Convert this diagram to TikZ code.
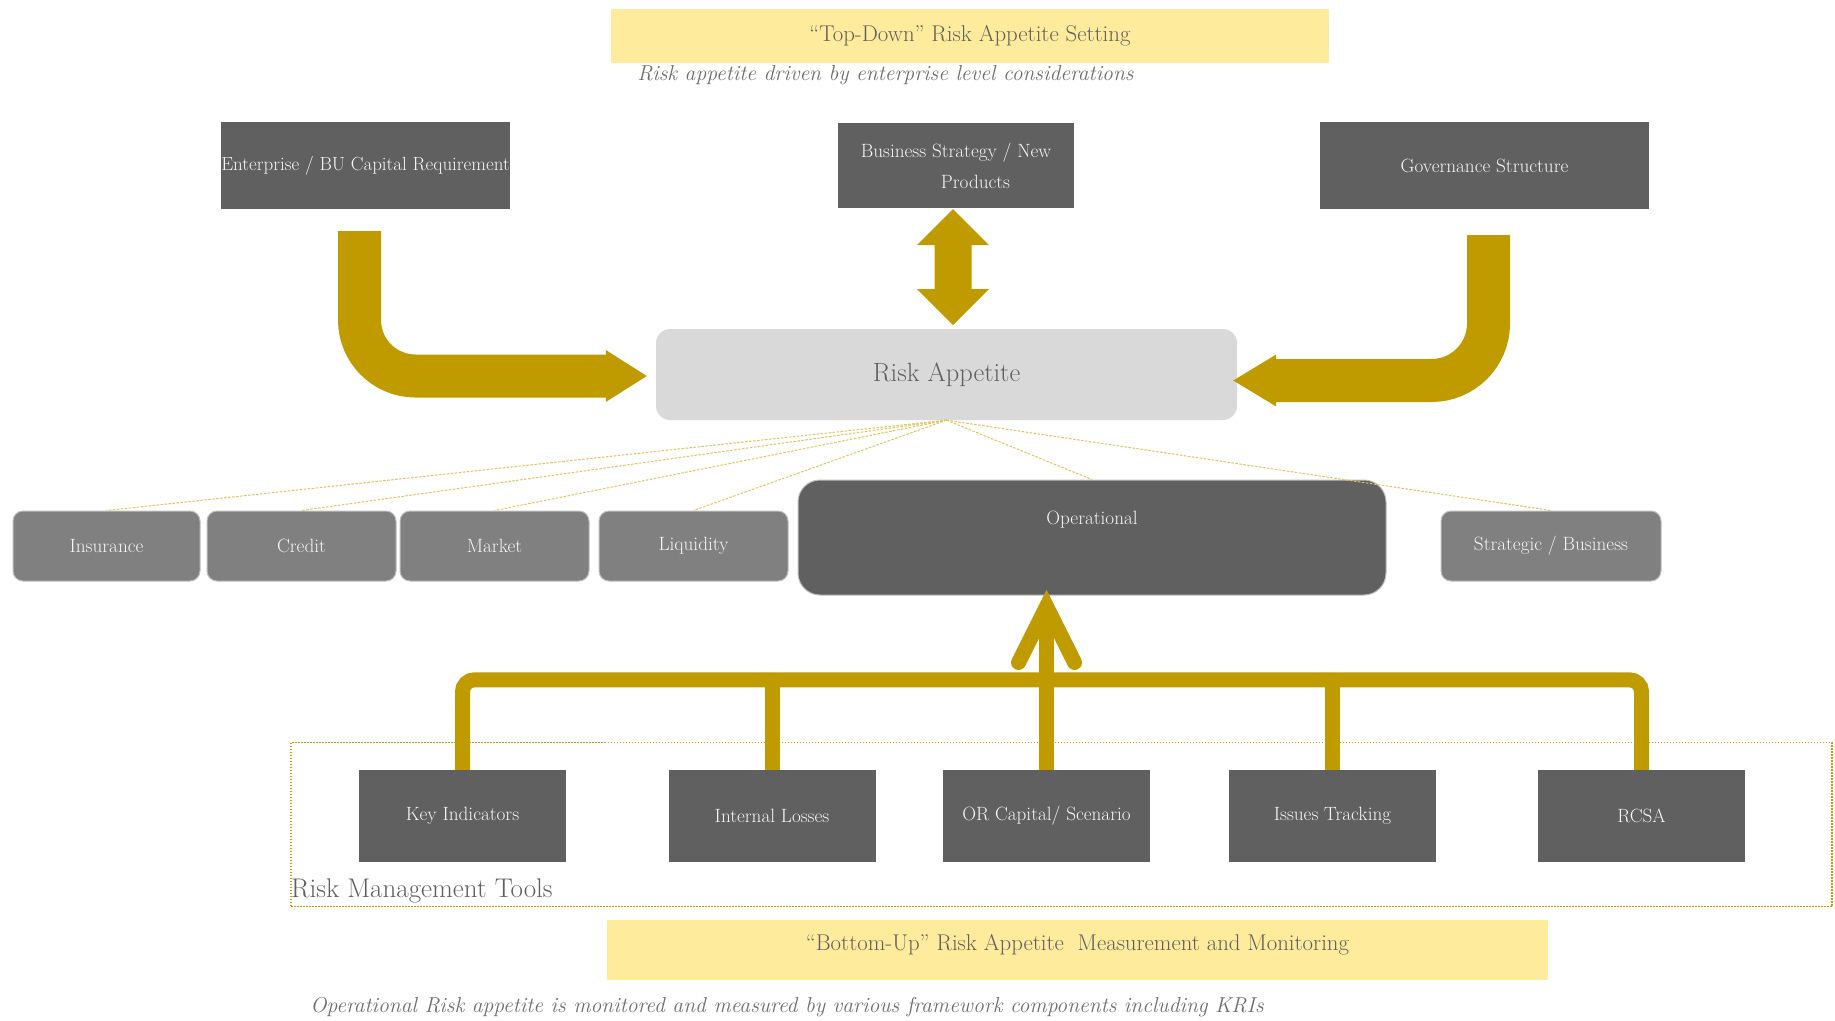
\documentclass[tikz,border=0pt]{standalone}
\usetikzlibrary{calc}
\definecolor{gold}{RGB}{191,155,0}
\definecolor{boxdark}{RGB}{96,96,96}
\definecolor{boxmid}{RGB}{128,128,128}
\definecolor{boxlight}{RGB}{217,217,217}
\definecolor{boxedge}{RGB}{190,190,190}
\definecolor{bandyellow}{RGB}{255,235,156}
\definecolor{txtgray}{RGB}{96,96,96}
\definecolor{italgray}{RGB}{110,110,110}
\definecolor{boxtxt}{RGB}{245,245,245}
\definecolor{fangold}{RGB}{222,196,90}
\begin{document}
\begin{tikzpicture}[x=1pt,y=-1pt,
  boxbase/.style={inner sep=0pt, align=center, text=boxtxt, font=\fontsize{19.2}{22}\selectfont},
  darkrect/.style={boxbase, fill=boxdark},
  midrect/.style={boxbase, fill=boxmid, draw=boxedge, line width=1pt, rounded corners=10pt, minimum height=70pt},
  toolrect/.style={boxbase, fill=boxdark, minimum width=207pt, minimum height=92pt},
  band/.style={fill=bandyellow, inner sep=0pt, text=txtgray, font=\fontsize{22.8}{26}\selectfont},
  subital/.style={inner sep=0pt, text=italgray, font=\fontsize{21.6}{26}\selectfont\itshape},
  pipe/.style={draw=gold, line width=15pt},
  fatpipe/.style={draw=gold, line width=43pt},
  fan/.style={draw=fangold, line width=1pt, dash pattern=on 2.5pt off 1.5pt}]
\useasboundingbox (0,0) rectangle (1835,1020);
\fill[white] (0,0) rectangle (1835,1020);

% headers
\node[band, minimum width=718pt, minimum height=54pt] (topband) at (970,36) {“Top-Down” Risk Appetite Setting};
\node[subital] (topsub) at (885.5,75) {Risk appetite driven by enterprise level considerations};

% top boxes
\node[darkrect, minimum width=289pt, minimum height=87pt, font=\fontsize{19}{22}\selectfont] (ent) at (365.5,165.5) {Enterprise / BU Capital Requirement};
\node[darkrect, minimum width=236pt, minimum height=85pt, font=\fontsize{19.2}{31}\selectfont] (bs) at (956,165.5) {Business Strategy / New\\\hspace*{39pt}Products};
\node[darkrect, minimum width=329pt, minimum height=87pt] (gov) at (1484.5,165.5) {Governance Structure};

% risk appetite
\node[fill=boxlight, rounded corners=14pt, inner sep=0pt, minimum width=581pt, minimum height=91pt, text=txtgray, font=\fontsize{26.4}{30}\selectfont] (ra) at (946.5,374.5) {Risk Appetite};

% risk categories
\node[midrect, minimum width=187pt] (ins) at (106.5,546) {Insurance};
\node[midrect, minimum width=189pt] (cre) at (301.5,546) {Credit};
\node[midrect, minimum width=189pt] (mar) at (494.5,546) {Market};
\node[midrect, minimum width=189pt] (liq) at (693.5,546) {Liquidity};
\node[boxbase, fill=boxdark, draw=boxedge, line width=1pt, rounded corners=22pt, minimum width=588pt, minimum height=115pt] (op) at (1092,537.5) {};
\node[boxbase] (optxt) at ($(op.north)+(0,40)$) {Operational};
\node[midrect, minimum width=220pt] (str) at (1551,546) {Strategic / Business};

% fan lines
\foreach \n in {ins,cre,mar,liq,op,str} \draw[fan] (ra.south) -- (\n.north);

% big arrows
\draw[fatpipe, rounded corners=56pt] ($(ent.south)+(-6,22)$) |- ($(ra.west)+(-49,1.5)$);
\fill[gold] ($(ra.west)+(-50,-24.5)$) -- ($(ra.west)+(-9,1.5)$) -- ($(ra.west)+(-50,27.5)$) -- cycle;
\draw[fatpipe, rounded corners=57pt] ($(gov.south)+(4,26)$) |- ($(ra.east)+(38,6)$);
\fill[gold] ($(ra.east)+(39,-20)$) -- ($(ra.east)+(-4,6)$) -- ($(ra.east)+(39,32)$) -- cycle;
\coordinate (dt) at ($(bs.south)+(-3,1)$);
\coordinate (db) at ($(dt)+(0,116)$);
\fill[gold] (dt) -- ++(36,36) -- ++(-17.5,0) -- ++(0,44) -- ++(17.5,0) -- (db) -- ++(-36,-36) -- ++(17.5,0) -- ++(0,-44) -- ++(-17.5,0) -- cycle;

% tools frame
\node[draw=gold, dash pattern=on 1.5pt off 1.5pt, line width=1.5pt, inner sep=0pt, minimum width=1541pt, minimum height=164pt] (toolframe) at (1061.5,824.5) {};
\node[anchor=base west, inner sep=0pt, text=txtgray, font=\fontsize{27}{30}\selectfont] (rmt) at (291,897) {Risk Management Tools};

% tools
\node[toolrect] (ki) at (462.5,816) {Key Indicators};
\node[toolrect] (il) at (772,816) {Internal Losses};
\node[toolrect] (orc) at (1046.5,816) {OR Capital/ Scenario};
\node[toolrect] (it) at (1332.5,816) {Issues Tracking};
\node[toolrect] (rcsa) at (1641.5,816) {RCSA};

% bus
\coordinate (busL) at ($(ki.north)+(0,-90)$);
\draw[pipe, rounded corners=12pt] (ki.north) -- (busL) -| (rcsa.north);
\draw[pipe] (il.north) -- (il.north |- busL);
\draw[pipe] (it.north) -- (it.north |- busL);
\coordinate (uptip) at ($(orc.north |- op.south)+(0,11)$);
\draw[pipe] (orc.north) -- (uptip);
\draw[pipe, line join=miter, line cap=round] ($(uptip)+(-28,56)$) -- (uptip) -- ($(uptip)+(28,56)$);

% bottom
\node[band, minimum width=941pt, minimum height=60pt, text depth=15pt] (botband) at (1077.5,950) {“Bottom-Up” Risk Appetite\ \ Measurement and Monitoring};
\node[subital] (botsub) at (787,1007) {Operational Risk appetite is monitored and measured by various framework components including KRIs};
\end{tikzpicture}
\end{document}
